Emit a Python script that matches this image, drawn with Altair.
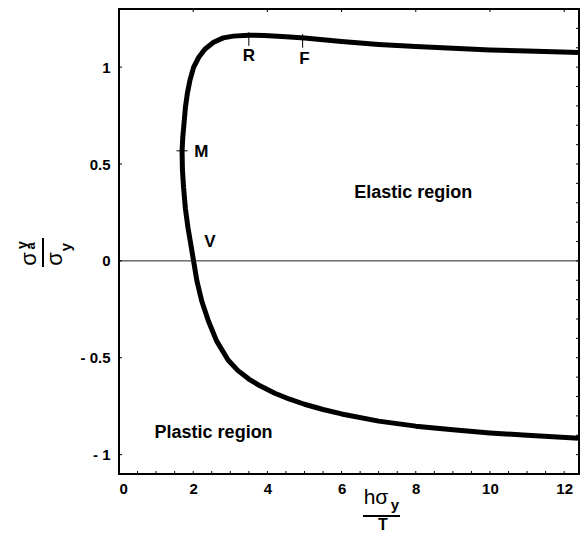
import altair as alt
import pandas as pd

# ---- data ----
curve_x = [12.4, 11.0, 10.0, 9.0, 8.0, 7.0, 6.0, 5.0, 4.5, 3.92, 3.5, 3.08, 2.81, 2.55,
           2.32, 2.15, 2.01, 1.91, 1.84, 1.79, 1.76, 1.72, 1.70, 1.71, 1.74, 1.79, 1.86,
           1.92, 2.01, 2.10, 2.23, 2.41, 2.63, 2.94, 3.2, 3.5, 3.8, 4.2, 4.6, 5.0, 5.5,
           6.0, 7.0, 8.0, 9.0, 10.0, 11.0, 12.4]
curve_y = [1.076, 1.083, 1.089, 1.097, 1.106, 1.117, 1.132, 1.150, 1.157, 1.163, 1.165,
           1.160, 1.151, 1.128, 1.094, 1.051, 0.999, 0.930, 0.861, 0.792, 0.724, 0.64,
           0.568, 0.47, 0.38, 0.27, 0.17, 0.103, 0.0, -0.103, -0.207, -0.310, -0.413,
           -0.512, -0.565, -0.610, -0.645, -0.683, -0.714, -0.740, -0.767, -0.790,
           -0.827, -0.853, -0.872, -0.888, -0.900, -0.915]

point_names = ["R", "F", "M", "V"]
point_label_x = [3.5, 5.0, 2.22, 2.45]
point_label_y = [1.06, 1.04, 0.563, 0.098]

region_names = ["Elastic region", "Plastic region"]
region_x = [7.93, 2.55]
region_y = [0.351, -0.889]

x_label_vals = [0, 2, 4, 6, 8, 10, 12]
y_label_vals = [-1, -0.5, 0, 0.5, 1]
x_minor = [i * 0.5 for i in range(25)]
x_top = [0, 2, 4, 6, 8, 10, 12]
y_left = [-1, -0.5, 0, 0.5, 1]
y_right = [round(-1.1 + i * 0.1, 2) for i in range(25)]

W, H = 460, 465
FONT = "Liberation Sans"
xs = alt.Scale(domain=[0, 12.4], nice=False, zero=False)
ys = alt.Scale(domain=[-1.1, 1.3], nice=False, zero=False)

X_AX = alt.Axis(values=x_label_vals, ticks=False, domain=False, grid=False,
                labelFont=FONT, labelFontSize=15, labelFontWeight="bold",
                labelColor="black", labelPadding=7, title=None)
Y_AX = alt.Axis(values=y_label_vals, ticks=False, domain=False, grid=False,
                labelFont=FONT, labelFontSize=15, labelFontWeight="bold",
                labelColor="black", labelPadding=9, title=None,
                labelExpr="datum.value < 0 ? '- ' + format(-datum.value, '~g') : format(datum.value, '~g')")


def X(f):
    return alt.X(f, scale=xs, axis=X_AX)


def Y(f):
    return alt.Y(f, scale=ys, axis=Y_AX)


curve = pd.DataFrame({"x": curve_x, "y": curve_y, "i": list(range(len(curve_x)))})

line = alt.Chart(curve).mark_line(color="black", strokeWidth=5, clip=True,
                                  strokeCap="round", strokeJoin="round").encode(
    x=X("x:Q"), y=Y("y:Q"), order="i:Q")

zero = alt.Chart(pd.DataFrame({"y": [0]})).mark_rule(color="#222", strokeWidth=1).encode(
    y=Y("y:Q"), x=alt.value(0), x2=alt.value(W))

# small marker ticks on the curve
vt = pd.DataFrame({"x": [3.5, 4.95], "y1": [1.11, 1.10], "y2": [1.18, 1.17]})
vticks = alt.Chart(vt).mark_rule(color="black", strokeWidth=1).encode(
    x=X("x:Q"), y=Y("y1:Q"), y2="y2:Q")
ht = pd.DataFrame({"x1": [1.55], "x2": [1.85], "y": [0.568]})
hticks = alt.Chart(ht).mark_rule(color="black", strokeWidth=1).encode(
    x=X("x1:Q"), x2="x2:Q", y=Y("y:Q"))

pts = pd.DataFrame({"x": point_label_x, "y": point_label_y, "t": point_names})
ptext = alt.Chart(pts).mark_text(font=FONT, fontSize=17, fontWeight="bold", color="black").encode(
    x=X("x:Q"), y=Y("y:Q"), text="t:N")

reg = pd.DataFrame({"x": region_x, "y": region_y, "t": region_names})
rtext = alt.Chart(reg).mark_text(font=FONT, fontSize=18, fontWeight="bold", color="black").encode(
    x=X("x:Q"), y=Y("y:Q"), text="t:N")

# frame ticks (inward)
tb = alt.Chart(pd.DataFrame({"x": x_minor})).mark_rule(color="black", strokeWidth=1).encode(
    x=X("x:Q"), y=alt.value(H), y2=alt.value(H - 3))
tt = alt.Chart(pd.DataFrame({"x": x_top})).mark_rule(color="black", strokeWidth=1).encode(
    x=X("x:Q"), y=alt.value(0), y2=alt.value(3))
tl = alt.Chart(pd.DataFrame({"y": y_left})).mark_rule(color="black", strokeWidth=1).encode(
    y=Y("y:Q"), x=alt.value(0), x2=alt.value(3))
tr = alt.Chart(pd.DataFrame({"y": y_right})).mark_rule(color="black", strokeWidth=1).encode(
    y=Y("y:Q"), x=alt.value(W), x2=alt.value(W - 3))

one = pd.DataFrame({"a": [0]})


def txt(t, px, py, size, angle=0, weight="bold"):
    kw = dict(text=t, font=FONT, fontSize=size, fontWeight=weight, color="black",
              align="center", baseline="middle")
    if angle:
        kw["angle"] = angle
    return alt.Chart(one).mark_text(**kw).encode(x=alt.value(px), y=alt.value(py))


# y title: sigma^y_a / sigma_y (rotated)
ytitle = [
    txt("σ", -90, 250, 22, 270, "normal"),
    txt("y", -96, 236, 14, 270),
    txt("a", -88, 237, 13, 270),
    alt.Chart(one).mark_rule(color="black", strokeWidth=2).encode(
        x=alt.value(-76), y=alt.value(229), y2=alt.value(258)),
    txt("σ", -64, 250, 22, 270, "normal"),
    txt("y", -53, 238, 15, 270),
]
# x title: h sigma_y / T
xtitle = [
    txt("hσ", 257, 489, 21, 0, "normal"),
    txt("y", 276, 496, 15),
    alt.Chart(one).mark_rule(color="black", strokeWidth=2).encode(
        x=alt.value(244), x2=alt.value(281), y=alt.value(507)),
    txt("T", 264, 516, 16),
]

chart = alt.layer(line, zero, vticks, hticks, ptext, rtext, tb, tt, tl, tr,
                  *ytitle, *xtitle).properties(
    width=W, height=H,
    padding={"left": 111, "top": 1, "right": 1, "bottom": 60},
    autosize=alt.AutoSizeParams(type="none"),
).configure_view(stroke="black", strokeWidth=2)

chart.save("out.html", embed_options={"renderer": "svg", "actions": False})
